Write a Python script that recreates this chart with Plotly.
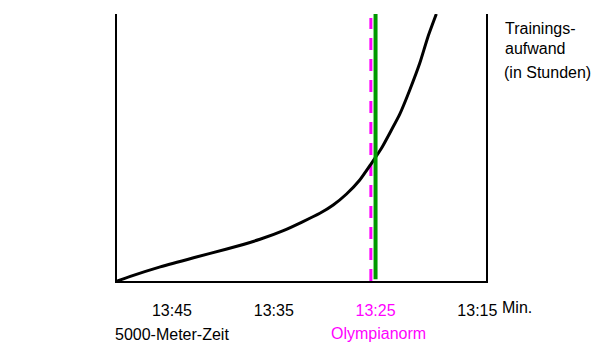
import plotly.graph_objects as go

# ---- data ----
tick_seconds = [825, 815, 805, 795]          # 13:45, 13:35, 13:25, 13:15 in seconds
tick_labels = ["13:45", "13:35", "13:25", "13:15"]
tick_colors = ["black", "black", "magenta", "black"]

curve_time_s = [830.39, 829.09, 826.15, 822.88, 819.61, 816.35, 814.06,
                810.47, 809.16, 807.85, 806.55, 805.40, 804.42, 803.44,
                802.62, 801.64, 800.66, 799.85, 799.03]
curve_effort = [0.0, 1.75, 5.3, 8.73, 11.99, 15.62, 18.84,
                25.36, 28.46, 32.58, 37.83, 44.08, 49.70, 56.55,
                62.5, 71.54, 81.53, 91.50, 100.0]

olympianorm_dashed_s = 805.46
olympianorm_green_s = 805.0
vline_dashed_y = [0, 98.5]
vline_green_y = [0.7, 100]

W, H = 606, 345
L, R, T, B = 117, 120, 14, 64
FONT = "Liberation Sans, Arial, sans-serif"


def px(xp, yp):
    pw = W - L - R
    ph = H - T - B
    return (xp - L) / pw, 1 - (yp - T) / ph


fig = go.Figure()
fig.add_trace(go.Scatter(
    x=[olympianorm_dashed_s, olympianorm_dashed_s], y=vline_dashed_y,
    mode="lines", line=dict(color="#FF00FF", width=3, dash="12px,9px"),
    hoverinfo="skip", showlegend=False))
fig.add_trace(go.Scatter(
    x=curve_time_s, y=curve_effort, mode="lines",
    line=dict(color="black", width=3, shape="spline", smoothing=0.6),
    hoverinfo="skip", showlegend=False))
fig.add_trace(go.Scatter(
    x=[olympianorm_green_s, olympianorm_green_s], y=vline_green_y,
    mode="lines", line=dict(color="#009900", width=4),
    hoverinfo="skip", showlegend=False))
# invisible trace to carry right axis line
fig.add_trace(go.Scatter(x=[None], y=[None], yaxis="y2", showlegend=False,
                         hoverinfo="skip"))

ticktext = [f'<span style="color:{c}">{t}</span>' for t, c in zip(tick_labels, tick_colors)]

fig.update_layout(
    width=W, height=H,
    margin=dict(l=L, r=R, t=T, b=B, pad=0),
    paper_bgcolor="white", plot_bgcolor="white",
    font=dict(family=FONT, size=16, color="black"),
    xaxis=dict(range=[830.4, 794.15], showgrid=False, zeroline=False,
               showline=True, linecolor="black", linewidth=1.5,
               tickmode="array", tickvals=tick_seconds, ticktext=ticktext,
               ticks="", ticklabelstandoff=14,
               tickfont=dict(family=FONT, size=16, color="black")),
    yaxis=dict(range=[0, 100], showgrid=False, zeroline=False,
               showline=True, linecolor="black", linewidth=1.5,
               showticklabels=False, ticks=""),
    yaxis2=dict(range=[0, 100], overlaying="y", side="right",
                showgrid=False, zeroline=False, showline=True,
                linecolor="black", linewidth=1.5,
                showticklabels=False, ticks=""),
)

annots = [
    ("Min.", 500, 307.5, "left", "black"),
    ("5000-Meter-Zeit", 113, 334.5, "left", "black"),
    ("Olympianorm", 378.5, 333, "center", "#FF00FF"),
    ("Trainings-", 502.5, 28, "left", "black"),
    ("aufwand", 502.5, 48.5, "left", "black"),
    ("(in Stunden)", 501.5, 72.5, "left", "black"),
]
for text, xp, yp, xa, col in annots:
    xx, yy = px(xp, yp)
    fig.add_annotation(text=text, x=xx, y=yy, xref="paper", yref="paper",
                       xanchor=xa, yanchor="middle", showarrow=False,
                       font=dict(family=FONT, size=16, color=col))

fig.write_html("out.html")
